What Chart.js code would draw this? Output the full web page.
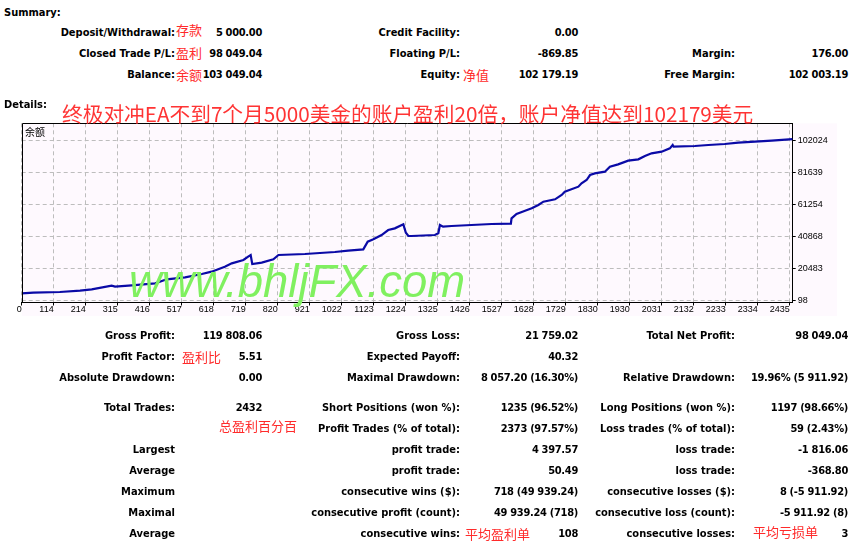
<!DOCTYPE html>
<html>
<head>
<meta charset="utf-8">
<script src="https://cdn.jsdelivr.net/npm/chart.js@4"></script>
<style>
  html, body { margin: 0; padding: 0; background: #fff; }
  #page { position: relative; width: 855px; height: 548px; overflow: hidden; }
  .t { position: absolute; white-space: nowrap; line-height: 14px; font: bold 11px "DejaVu Sans Condensed", "DejaVu Sans", sans-serif; color: #000; }
  .v { letter-spacing: -0.3px; }
  .r { color: #ff2a2a; font: 13px "Noto Sans CJK SC", sans-serif; line-height: 16px; }
  #title { position: absolute; left: 62px; top: 100px; font: 20.7px "Noto Sans CJK SC", sans-serif; color: #ff3434; line-height: 26px; white-space: nowrap; }
  #wm { position: absolute; left: 129px; top: 257px; font: italic 45.5px "Liberation Sans", Arial, sans-serif; color: #80f060; white-space: nowrap; line-height: 50px; }
  #cap { position: absolute; left: 25px; top: 125px; font: 10px "Noto Sans CJK SC", sans-serif; line-height: 14px; }
  #box { position: absolute; left: 0; top: 100px; width: 855px; height: 230px; }
</style>
</head>
<body>
<div id="page">
  <div id="box"><canvas id="balanceChart" width="855" height="230"></canvas></div>
  <div id="title">终极对冲EA不到7个月5000美金的账户盈利20倍，账户净值达到102179美元</div>
  <div id="cap">余额</div>
  <div id="wm">www.bhljFX.com</div>
</div>
<script>
"use strict"

// ---- data ----
let tradeNo = [0, 37, 121, 185, 222, 285, 296, 349, 423, 460, 518, 571, 602, 644, 666, 703, 718, 726, 731, 761,
    798, 814, 898, 993, 1035, 1083, 1097, 1115, 1141, 1162, 1183, 1210, 1218, 1226, 1236, 1310, 1321, 1326, 1336, 1363,
    1426, 1490, 1551, 1553, 1569, 1596, 1617, 1638, 1654, 1691, 1712, 1722, 1765, 1775, 1791, 1802, 1817, 1849, 1865, 1891,
    1923, 1955, 1976, 1997, 2029, 2055, 2064, 2067, 2134, 2177, 2229, 2272, 2325, 2378, 2444]
let balance = [5000, 5400, 5820, 6670, 7520, 9850, 9210, 10060, 11330, 13880, 15150, 17270, 18750, 21930, 24050, 26170, 28290, 29350, 23620, 24470,
    26590, 29350, 29980, 31250, 32100, 32950, 37820, 39310, 42060, 45240, 46300, 48840, 43500, 41430, 41430, 42060, 43140, 48420, 47340, 47780,
    48420, 49050, 49270, 52660, 55410, 57530, 59020, 61140, 63250, 64740, 67490, 69610, 72790, 74910, 77030, 80210, 81270, 82330, 85510, 86990,
    89320, 90170, 92290, 93980, 95040, 97160, 99280, 98220, 98650, 99280, 99920, 100760, 101400, 102030, 103049]

let xTickLabels = ["0", "114", "214", "315", "416", "517", "618", "719", "820", "921", "1022", "1123", "1224",
    "1325", "1426", "1527", "1628", "1729", "1830", "1930", "2031", "2132", "2233", "2334", "2435"]
let yTicks = [98, 20483, 40868, 61254, 81639, 102024]

// report texts: [label, value] per column
let summaryLeft = [["Deposit/Withdrawal:", "5 000.00"], ["Closed Trade P/L:", "98 049.04"], ["Balance:", "103 049.04"]]
let summaryMid = [["Credit Facility:", "0.00"], ["Floating P/L:", "-869.85"], ["Equity:", "102 179.19"]]
let summaryRight = [null, ["Margin:", "176.00"], ["Free Margin:", "102 003.19"]]

let statsLeft = [["Gross Profit:", "119 808.06"], ["Profit Factor:", "5.51"], ["Absolute Drawdown:", "0.00"], ["Total Trades:", "2432"],
    null, ["Largest", ""], ["Average", ""], ["Maximum", ""], ["Maximal", ""], ["Average", ""]]
let statsMid = [["Gross Loss:", "21 759.02"], ["Expected Payoff:", "40.32"], ["Maximal Drawdown:", "8 057.20 (16.30%)"],
    ["Short Positions (won %):", "1235 (96.52%)"], ["Profit Trades (% of total):", "2373 (97.57%)"],
    ["profit trade:", "4 397.57"], ["profit trade:", "50.49"], ["consecutive wins ($):", "718 (49 939.24)"],
    ["consecutive profit (count):", "49 939.24 (718)"], ["consecutive wins:", "108"]]
let statsRight = [["Total Net Profit:", "98 049.04"], null, ["Relative Drawdown:", "19.96% (5 911.92)"],
    ["Long Positions (won %):", "1197 (98.66%)"], ["Loss trades (% of total):", "59 (2.43%)"],
    ["loss trade:", "-1 816.06"], ["loss trade:", "-368.80"], ["consecutive losses ($):", "8 (-5 911.92)"],
    ["consecutive loss (count):", "-5 911.92 (8)"], ["consecutive losses:", "3"]]

let notes = [["存款", 176, 30], ["盈利", 176, 53], ["余额", 176, 75], ["净值", 463, 75], ["盈利比", 182, 357],
    ["总盈利百分百", 219, 426], ["平均盈利单", 465, 534], ["平均亏损单", 753, 532]]

// ---- text of the report ----
let page = document.getElementById("page")

function put(text, x, y, alignRight, cls) {
    let el = document.createElement("div")
    el.className = cls || "t"
    el.textContent = text
    let half = el.className.indexOf("r") > 0 ? 8 : 7
    el.style.top = (y - half) + "px"
    if (alignRight) {
        el.style.right = (855 - x) + "px"
    } else {
        el.style.left = x + "px"
    }
    page.appendChild(el)
}

function putColumn(rows, ys, labelRight, valueRight) {
    for (let i = 0; i < rows.length; i++) {
        if (!rows[i]) continue
        put(rows[i][0], labelRight, ys[i], true)
        if (rows[i][1]) put(rows[i][1], valueRight, ys[i], true, "t v")
    }
}

put("Summary:", 4, 12.5, false)
put("Details:", 4, 104.5, false)

let topRows = [32.5, 53.5, 74.5]
putColumn(summaryLeft, topRows, 175, 262)
putColumn(summaryMid, topRows, 460, 578)
putColumn(summaryRight, topRows, 735, 848)

let lowRows = [336, 357, 378, 408, 429, 450, 471, 492, 513, 534]
putColumn(statsLeft, lowRows, 175, 262)
putColumn(statsMid, lowRows, 460, 578)
putColumn(statsRight, lowRows, 735, 848)

for (let n = 0; n < notes.length; n++) {
    put(notes[n][0], notes[n][1], notes[n][2], false, "t r")
}

// ---- balance chart ----
let points = []
for (let i = 0; i < tradeNo.length; i++) {
    points.push({ x: tradeNo[i], y: balance[i] })
}

let tickStep = 2435 / 24

let frame = {
    id: "frame",
    beforeDraw(chart) {
        let a = chart.chartArea
        let ctx = chart.ctx
        ctx.save()
        ctx.fillStyle = "#fef9fe"
        ctx.fillRect(a.left, a.top, 837 - a.left, 216 - a.top)
        ctx.restore()
    },
    afterDraw(chart) {
        let a = chart.chartArea
        let ctx = chart.ctx
        ctx.save()
        ctx.strokeStyle = "#000"
        ctx.lineWidth = 1
        ctx.beginPath()
        ctx.moveTo(Math.round(a.left) + 0.5, Math.round(a.bottom))
        ctx.lineTo(Math.round(a.left) + 0.5, Math.round(a.top) + 0.5)
        ctx.lineTo(Math.round(a.right), Math.round(a.top) + 0.5)
        ctx.stroke()
        ctx.restore()
    }
}

new Chart(document.getElementById("balanceChart"), {
    type: "line",
    data: {
        datasets: [{
            label: "余额",
            data: points,
            borderColor: "#0a0aa6",
            borderWidth: 2.2,
            pointRadius: 0,
            tension: 0,
            fill: false
        }]
    },
    options: {
        responsive: false,
        animation: false,
        devicePixelRatio: 1,
        layout: { padding: { left: 21.7, top: 23.3, right: 0, bottom: 0 } },
        plugins: { legend: { display: false }, tooltip: { enabled: false } },
        scales: {
            x: {
                type: "linear",
                position: "bottom",
                min: 0,
                max: 2444.5,
                afterBuildTicks: (scale) => {
                    scale.ticks = xTickLabels.map((l, i) => ({ value: i * tickStep }))
                },
                afterFit: (scale) => { scale.height = 27.5 },
                ticks: {
                    autoSkip: false,
                    maxRotation: 0,
                    align: "end",
                    padding: 0,
                    color: "#000",
                    font: { family: "Liberation Sans", size: 9, lineHeight: 1 },
                    callback: (value, index) => xTickLabels[index]
                },
                grid: { color: "#bdbdbd", lineWidth: 1, tickColor: "#000", tickLength: 3, tickBorderDash: [] },
                border: { color: "#000", width: 1, dash: [4, 3] }
            },
            y: {
                position: "right",
                min: -856,
                max: 113089,
                afterBuildTicks: (scale) => {
                    scale.ticks = yTicks.map((v) => ({ value: v }))
                },
                afterFit: (scale) => { scale.width = 62.3 },
                ticks: {
                    padding: 2,
                    color: "#000",
                    font: { family: "Liberation Sans", size: 9, lineHeight: 1 },
                    callback: (value) => String(value)
                },
                grid: { color: "#bdbdbd", lineWidth: 1, tickColor: "#000", tickLength: 3, tickBorderDash: [] },
                border: { color: "#000", width: 1, dash: [4, 3] }
            }
        }
    },
    plugins: [frame]
})
</script>
</body>
</html>
